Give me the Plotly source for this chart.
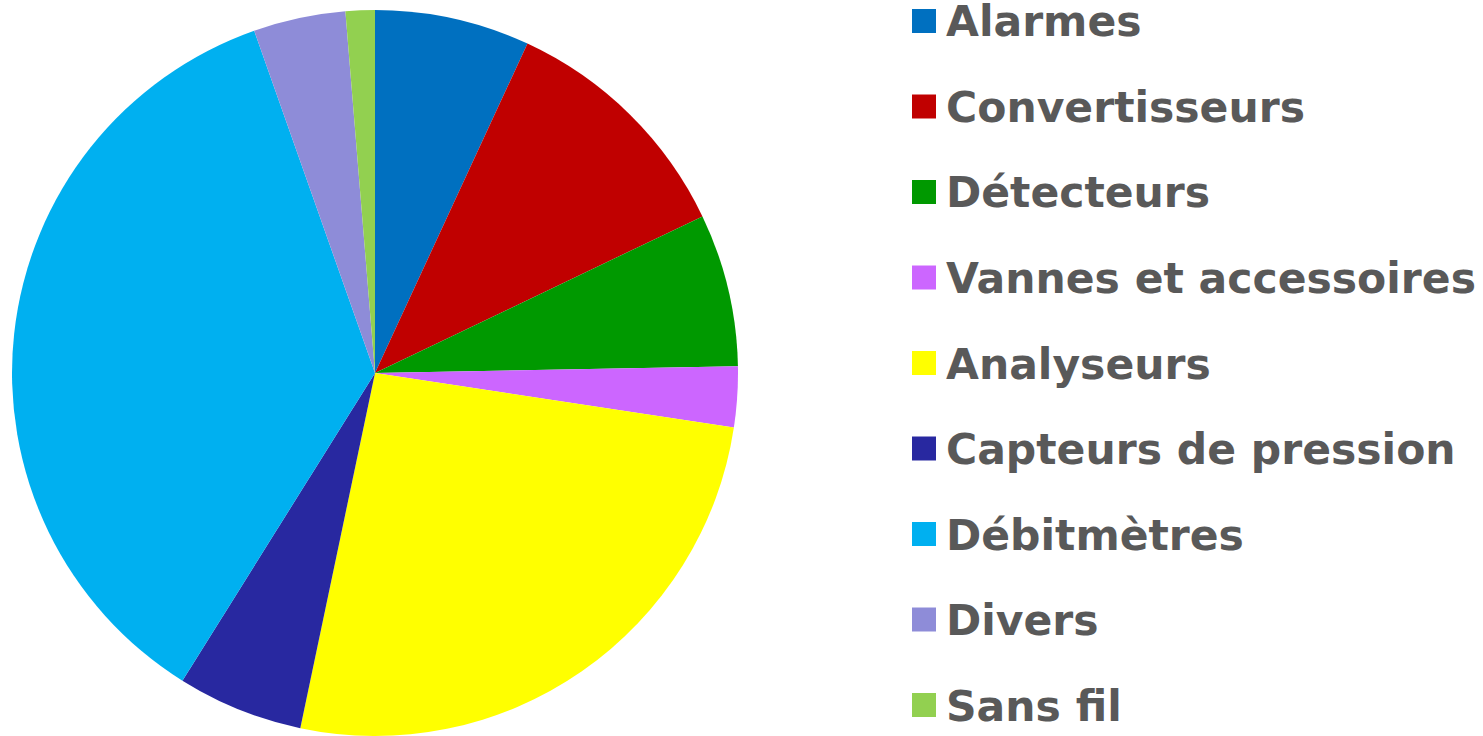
import plotly.graph_objects as go

labels = ["Alarmes", "Convertisseurs", "Détecteurs", "Vannes et accessoires",
          "Analyseurs", "Capteurs de pression", "Débitmètres", "Divers", "Sans fil"]
values = [6.9, 11.0, 6.8, 2.7, 25.9, 5.6, 35.7, 4.1, 1.3]
colors = ["#0070C0", "#C00000", "#009900", "#CC66FF", "#FFFF00",
          "#2828A0", "#00B0F0", "#8E8CD8", "#92D050"]

W, H = 1483, 736

fig = go.Figure()
fig.add_trace(go.Pie(
    labels=labels, values=values, sort=False, direction="clockwise", rotation=0,
    marker=dict(colors=colors, line=dict(width=0)),
    textinfo="none", hoverinfo="label+percent", showlegend=False,
    domain=dict(x=[12 / W, 738 / W], y=[0, 1 - 10 / H]),
))

# custom legend (large square markers and widely spaced rows)
row0, step = 21, 85.5
for i, (lab, col) in enumerate(zip(labels, colors)):
    yc = row0 + i * step
    fig.add_shape(type="rect", xref="paper", yref="paper",
                  x0=912 / W, x1=936 / W, y0=1 - (yc + 12) / H, y1=1 - (yc - 12) / H,
                  fillcolor=col, line=dict(width=0))
    fig.add_annotation(x=944 / W, y=1 - (yc + 1) / H, xref="paper", yref="paper",
                       xanchor="left", yanchor="middle", showarrow=False,
                       text="<b>" + lab + "</b>",
                       font=dict(family="DejaVu Sans", size=42.5, color="#595959"))

fig.update_layout(width=W, height=H, margin=dict(l=0, r=0, t=0, b=0),
                  paper_bgcolor="white", plot_bgcolor="white")
fig.write_html("out.html", config={"displayModeBar": False},
               post_script="document.body.style.margin='0';document.body.style.overflow='hidden';")
